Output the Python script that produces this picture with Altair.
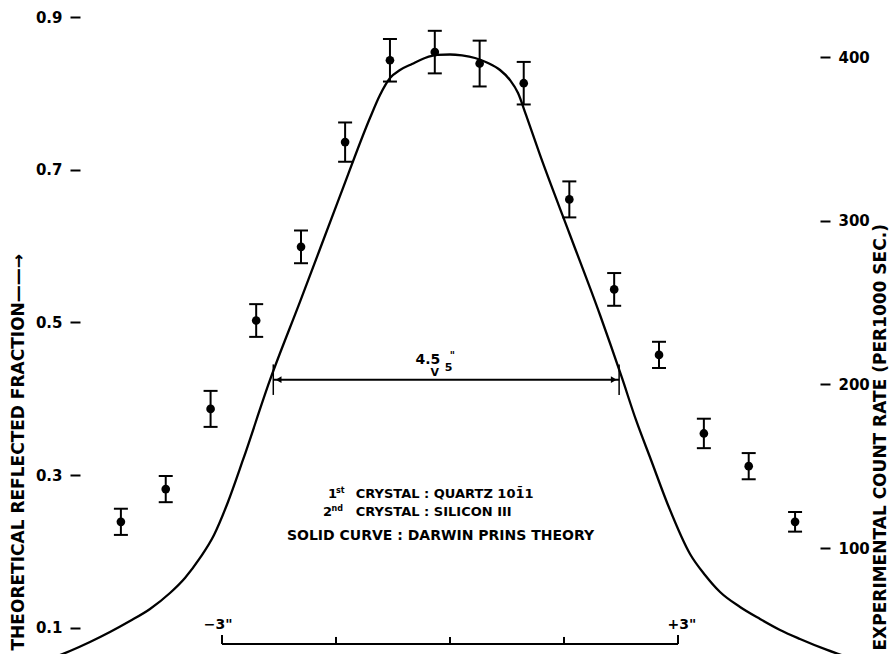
import altair as alt
import pandas as pd

FONT = "DejaVu Sans"

# Measured double-crystal rocking curve (angle in seconds of arc)
angle_pts = [-4.33, -3.74, -3.15, -2.55, -1.96, -1.38, -0.79, -0.20,
             0.39, 0.97, 1.57, 2.16, 2.75, 3.34, 3.93, 4.54]
counts = [116, 136, 185, 239, 284, 348, 398, 403,
          396, 384, 313, 258, 218, 170, 150, 116]
count_err = [8, 8, 11, 10, 10, 12, 13, 13,
             14, 13, 11, 10, 8, 9, 8, 6]

# Darwin-Prins theoretical reflected fraction
angle_curve = [-5.263, -5.000, -4.737, -4.474, -4.211, -3.947, -3.684, -3.487,
               -3.289, -3.105, -2.921, -2.724, -2.368, -1.974, -1.447, -1.053,
               -0.921, -0.789, -0.658, -0.500, -0.329, -0.171, 0.000, 0.158,
               0.329, 0.500, 0.658, 0.789, 0.895, 1.000, 1.184, 1.579,
               1.974, 2.263, 2.447, 2.645, 2.868, 3.158, 3.355, 3.553,
               3.816, 4.079, 4.342, 4.605, 4.961, 5.263]
fraction_curve = [0.0592, 0.0696, 0.0814, 0.0945, 0.1089, 0.1247, 0.1456, 0.1653,
                  0.1915, 0.2216, 0.2648, 0.3198, 0.4246, 0.5268, 0.6656, 0.7677,
                  0.7979, 0.8201, 0.8306, 0.8385, 0.8463, 0.8503, 0.8509, 0.8496,
                  0.8463, 0.8398, 0.8306, 0.8175, 0.8005, 0.7717, 0.7193, 0.6145,
                  0.5097, 0.4272, 0.3722, 0.3198, 0.2609, 0.1967, 0.1692, 0.1469,
                  0.1273, 0.1116, 0.0972, 0.0854, 0.0710, 0.0605]

# Full width at half maximum
fwhm = 4.55
fwhm_center = -0.05
half_level = 0.425

# Angular scale bar
scale_ticks = [-3, -1.5, 0, 1.5, 3]

# Notes printed inside the plot
note_main = ["1", "CRYSTAL : QUARTZ 10\u0031\u03041", "2", "CRYSTAL : SILICON III"]
note_sup = ["st", "nd"]
note_curve = "SOLID CURVE : DARWIN PRINS THEORY"

X_DOMAIN = [-4.868, 4.868]
LEFT_DOMAIN = [0.06569, 0.92227]
RIGHT_DOMAIN = [35.24, 434.83]

left_axis = alt.Axis(
    orient="left", values=[0.1, 0.3, 0.5, 0.7, 0.9], format=".1f",
    domain=False, grid=False, tickSize=10, tickWidth=2, tickColor="black",
    labelPadding=8, labelFont=FONT, labelFontSize=15, labelFontWeight="bold",
    labelColor="black",
    title="THEORETICAL REFLECTED FRACTION\u2014\u2014\u2192", titleAngle=270,
    titleX=-62, titleY=650, titleAlign="left", titleBaseline="middle",
    titleFont=FONT, titleFontSize=17, titleFontWeight="bold", titleColor="black",
)
right_axis = alt.Axis(
    orient="right", values=[100, 200, 300, 400], format="d",
    domain=False, grid=False, tickSize=10, tickWidth=2, tickColor="black",
    labelPadding=8, labelFont=FONT, labelFontSize=15, labelFontWeight="bold",
    labelColor="black",
    title="EXPERIMENTAL COUNT RATE (PER1000 SEC.)", titleAngle=270,
    titleX=60, titleY=650, titleAlign="left", titleBaseline="middle",
    titleFont=FONT, titleFontSize=17, titleFontWeight="bold", titleColor="black",
)


def xq(field):
    return alt.X(field, type="quantitative",
                 scale=alt.Scale(domain=X_DOMAIN, nice=False, zero=False), axis=None)


def yl(field):
    return alt.Y(field, type="quantitative",
                 scale=alt.Scale(domain=LEFT_DOMAIN, nice=False, zero=False),
                 axis=left_axis)


def yr(field):
    return alt.Y(field, type="quantitative",
                 scale=alt.Scale(domain=RIGHT_DOMAIN, nice=False, zero=False),
                 axis=right_axis)


def texts(df, size, baseline="middle", align="center"):
    return alt.Chart(df).mark_text(
        font=FONT, fontSize=size, fontWeight="bold", baseline=baseline,
        align=align, color="black").encode(x=xq("s"), y=yl("v"), text="t:N")


curve_df = pd.DataFrame({"s": angle_curve, "v": fraction_curve})
pts_df = pd.DataFrame({"s": angle_pts, "c": counts, "e": count_err})
pts_df["lo"] = pts_df["c"] - pts_df["e"]
pts_df["hi"] = pts_df["c"] + pts_df["e"]

curve = alt.Chart(curve_df).mark_line(
    color="black", strokeWidth=2.3, interpolate="monotone"
).encode(x=xq("s"), y=yl("v"))

# Half-width arrow
lo_end = fwhm_center - fwhm / 2
hi_end = fwhm_center + fwhm / 2
arrow_df = pd.DataFrame({"s": [lo_end], "s2": [hi_end], "v": [half_level]})
arrow_line = alt.Chart(arrow_df).mark_rule(color="black", strokeWidth=2).encode(
    x=xq("s"), x2=alt.X2("s2"), y=yl("v"))
end_df = pd.DataFrame({"s": [lo_end, hi_end],
                       "v": [half_level - 0.02] * 2, "v2": [half_level + 0.02] * 2})
arrow_ends = alt.Chart(end_df).mark_rule(color="black", strokeWidth=1.5).encode(
    x=xq("s"), y=yl("v"), y2=alt.Y2("v2"))
head_df = pd.DataFrame({"s": [lo_end + 0.07], "v": [half_level]})
head_l = alt.Chart(head_df).mark_point(
    shape="triangle-left", filled=True, color="black", size=45, opacity=1).encode(
    x=xq("s"), y=yl("v"))
head_df2 = pd.DataFrame({"s": [hi_end - 0.07], "v": [half_level]})
head_r = alt.Chart(head_df2).mark_point(
    shape="triangle-right", filled=True, color="black", size=45, opacity=1).encode(
    x=xq("s"), y=yl("v"))

# "4.5_5 seconds" label with its pointer
width_main = texts(pd.DataFrame({"s": [-0.29], "v": [0.4416], "t": ["4.5"]}), 14, "bottom")
width_sub = texts(pd.DataFrame({"s": [-0.02], "v": [0.434], "t": ["5"]}), 11, "bottom")
width_sec = texts(pd.DataFrame({"s": [0.03], "v": [0.4626], "t": ['"']}), 10, "top")
width_v = texts(pd.DataFrame({"s": [-0.2], "v": [half_level + 0.002], "t": ["V"]}), 11, "bottom")

# Angular scale bar along the bottom
bar_df = pd.DataFrame({"s": [scale_ticks[0]], "s2": [scale_ticks[-1]], "v": [0.0788]})
scale_bar = alt.Chart(bar_df).mark_rule(color="black", strokeWidth=2).encode(
    x=xq("s"), x2=alt.X2("s2"), y=yl("v"))
tick_df = pd.DataFrame({"s": scale_ticks, "v": [0.0788] * 5,
                        "v2": [0.0906, 0.0880, 0.0880, 0.0880, 0.0906]})
scale_marks = alt.Chart(tick_df).mark_rule(color="black", strokeWidth=2).encode(
    x=xq("s"), y=yl("v"), y2=alt.Y2("v2"))
scale_lbl = texts(pd.DataFrame({"s": [-3.05, 3.05], "v": [0.1037] * 2,
                                "t": ['\u22123"', '+3"']}), 14)

# Note block
notes_a = texts(pd.DataFrame({"s": [-1.605, -1.24, -1.671, -1.24],
                              "v": [0.2752, 0.2752, 0.2516, 0.2516],
                              "t": note_main}), 13, align="left")
notes_b = texts(pd.DataFrame({"s": [-1.50, -1.56], "v": [0.2795, 0.2560],
                              "t": note_sup}), 8, align="left")
notes_c = texts(pd.DataFrame({"s": [-2.145], "v": [0.2202], "t": [note_curve]}),
                14, align="left")

left_group = alt.layer(curve, arrow_line, arrow_ends, head_l, head_r,
                       width_main, width_sub, width_sec, width_v,
                       scale_bar, scale_marks, scale_lbl,
                       notes_a, notes_b, notes_c)

err = alt.Chart(pts_df).mark_rule(color="black", strokeWidth=2).encode(
    x=xq("s"), y=yr("lo"), y2=alt.Y2("hi"))
caps_lo = alt.Chart(pts_df).mark_tick(
    color="black", orient="horizontal", size=14, thickness=2, opacity=1).encode(
    x=xq("s"), y=yr("lo"))
caps_hi = alt.Chart(pts_df).mark_tick(
    color="black", orient="horizontal", size=14, thickness=2, opacity=1).encode(
    x=xq("s"), y=yr("hi"))
dots = alt.Chart(pts_df).mark_point(
    shape="circle", filled=True, color="black", size=75, opacity=1).encode(
    x=xq("s"), y=yr("c"))

right_group = alt.layer(err, caps_lo, caps_hi, dots)

chart = alt.layer(left_group, right_group).resolve_scale(
    y="independent"
).properties(
    width=740, height=654,
    autosize=alt.AutoSizeParams(type="none"),
    padding={"left": 80, "right": 72, "top": 0, "bottom": 0},
    background="white",
).configure_view(stroke=None)

chart.save("out.html", embed_options={"renderer": "svg", "actions": False})
